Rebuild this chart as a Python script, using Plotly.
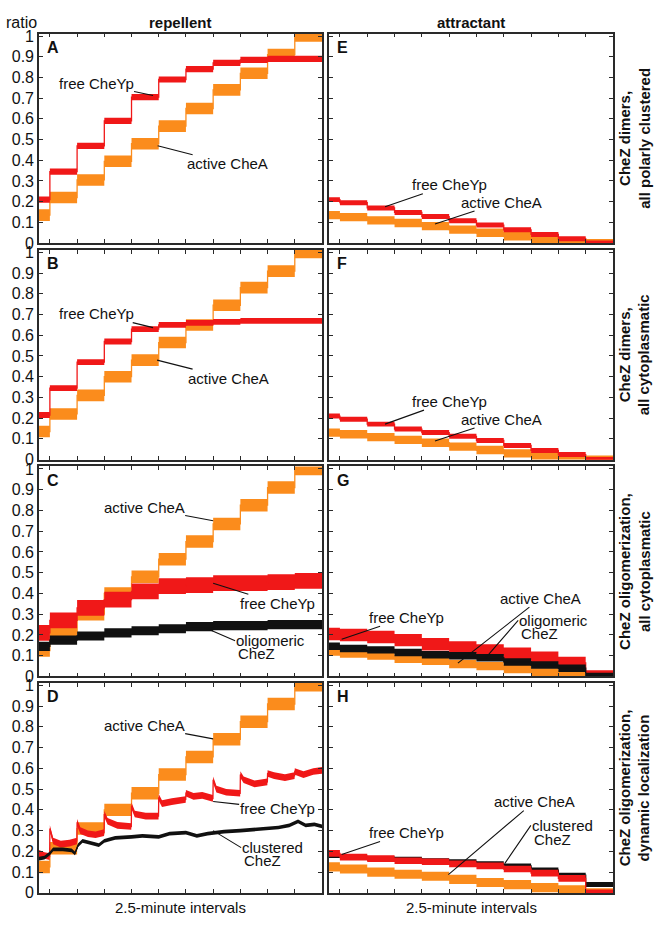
import plotly.graph_objects as go
from plotly.subplots import make_subplots

# ---------------------------------------------------------------- data
# stimulus step times (min); each level holds until the next step time,
# the last one until END_T
step_times = [-1.0, 0.0, 2.5, 5.0, 7.5, 10.0, 12.5, 15.0, 17.5, 20.0, 22.5]
END_T = 25.0

# repellent steps
cheA_A = [0.135, 0.22, 0.305, 0.395, 0.48, 0.565, 0.65, 0.74, 0.82, 0.91, 1.0]
cheYp_A = [0.21, 0.345, 0.47, 0.59, 0.705, 0.79, 0.84, 0.87, 0.885, 0.89, 0.89]

cheA_B = [0.135, 0.22, 0.31, 0.40, 0.48, 0.565, 0.65, 0.745, 0.83, 0.91, 1.0]
cheYp_B = [0.215, 0.345, 0.47, 0.57, 0.63, 0.65, 0.66, 0.665, 0.67, 0.67, 0.67]

cheA_C = [0.125, 0.215, 0.30, 0.40, 0.48, 0.565, 0.65, 0.735, 0.825, 0.91, 1.0]
cheYp_C = [0.21, 0.27, 0.33, 0.37, 0.41, 0.435, 0.44, 0.45, 0.45, 0.455, 0.46]
cheZ_C = [0.145, 0.175, 0.195, 0.21, 0.22, 0.23, 0.24, 0.245, 0.245, 0.25, 0.25]

cheA_D = [0.125, 0.215, 0.31, 0.40, 0.48, 0.57, 0.655, 0.74, 0.825, 0.91, 1.0]
t_cheYp_D = [-1.0, -0.5, -0.02, 0.0, 0.3, 1.0, 1.8, 2.48,
             2.5, 2.8, 3.5, 4.2, 4.98,
             5.0, 5.3, 6.2, 7.48,
             7.5, 7.8, 8.8, 9.98,
             10.0, 10.3, 11.2, 12.48,
             12.5, 13.2, 14.0, 14.98,
             15.0, 15.3, 16.2, 17.48,
             17.5, 17.8, 18.8, 19.98,
             20.0, 20.6, 21.6, 22.48,
             22.5, 23.3, 24.2, 25.0]
cheYp_D = [0.19, 0.18, 0.175, 0.31, 0.25, 0.235, 0.24, 0.25,
           0.34, 0.30, 0.285, 0.28, 0.29,
           0.38, 0.345, 0.325, 0.32,
           0.42, 0.38, 0.37, 0.37,
           0.46, 0.43, 0.44, 0.45,
           0.48, 0.465, 0.47, 0.455,
           0.545, 0.50, 0.485, 0.48,
           0.57, 0.545, 0.525, 0.535,
           0.575, 0.565, 0.555, 0.565,
           0.585, 0.57, 0.585, 0.59]
t_cheZ_D = [-1.0, -0.5, 0.0, 0.3, 1.2, 2.0, 2.3, 2.6, 3.0, 4.0, 4.5, 5.0, 6.0,
            7.5, 8.5, 10.0, 11.0, 12.5, 13.5, 14.5, 16.0, 17.5, 18.5, 20.0,
            21.0, 22.0, 22.8, 23.5, 24.3, 25.0]
cheZ_D = [0.165, 0.17, 0.19, 0.21, 0.21, 0.205, 0.19, 0.23, 0.25, 0.235, 0.23,
          0.25, 0.265, 0.27, 0.275, 0.27, 0.285, 0.29, 0.275, 0.285, 0.295,
          0.30, 0.305, 0.31, 0.315, 0.325, 0.345, 0.325, 0.33, 0.32]

# attractant steps
cheA_E = [0.135, 0.125, 0.11, 0.097, 0.082, 0.065, 0.05, 0.033, 0.018, 0.007, 0.0]
cheYp_E = [0.21, 0.195, 0.17, 0.148, 0.128, 0.108, 0.087, 0.064, 0.042, 0.021, 0.0]

cheA_F = [0.13, 0.122, 0.108, 0.095, 0.081, 0.062, 0.046, 0.03, 0.015, 0.005, 0.0]
cheYp_F = [0.21, 0.195, 0.171, 0.147, 0.13, 0.112, 0.092, 0.068, 0.044, 0.024, 0.0]

cheA_G = [0.12, 0.11, 0.10, 0.085, 0.075, 0.06, 0.05, 0.035, 0.02, 0.01, 0.0]
cheYp_G = [0.205, 0.20, 0.19, 0.175, 0.155, 0.14, 0.125, 0.11, 0.09, 0.065, 0.0]
cheZ_G = [0.145, 0.135, 0.128, 0.115, 0.105, 0.10, 0.09, 0.07, 0.055, 0.04, 0.0]

cheA_H = [0.125, 0.115, 0.10, 0.09, 0.08, 0.065, 0.05, 0.04, 0.025, 0.015, 0.0]
cheYp_H = [0.19, 0.172, 0.165, 0.155, 0.15, 0.14, 0.13, 0.115, 0.095, 0.07, 0.0]
cheZ_H = [0.18, 0.172, 0.165, 0.162, 0.155, 0.15, 0.14, 0.13, 0.11, 0.085, 0.04]

y_ticks = [0.0, 0.1, 0.2, 0.3, 0.4, 0.5, 0.6, 0.7, 0.8, 0.9, 1.0]
y_tick_text = ["0", "0.1", "0.2", "0.3", "0.4", "0.5", "0.6", "0.7", "0.8", "0.9", "1"]

col_titles = ["repellent", "attractant"]
row_titles = ["CheZ dimers,<br>all polarly clustered",
              "CheZ dimers,<br>all cytoplasmatic",
              "CheZ oligomerization,<br>all cytoplasmatic",
              "CheZ oligomerization,<br>dynamic localization"]
panel_letters = [["A", "E"], ["B", "F"], ["C", "G"], ["D", "H"]]
x_title = "2.5-minute intervals"

# ---------------------------------------------------------------- style
FONT = "Liberation Sans, Arial, sans-serif"
RED = "#f01818"
ORANGE = "#fb8c1c"
BLACK = "#111111"
FRAME = "#2a2a2a"
W, H = 654, 925

# panel boxes in page pixels
col_px = [(39, 322), (329, 613)]
row_px = [(28, 241), (248, 461), (468, 681.5), (688, 901.5)]

fig = make_subplots(rows=4, cols=2)


def ax_names(row, col):
    i = (row - 1) * 2 + col
    s = "" if i == 1 else str(i)
    return "x" + s, "y" + s


def steps(levels):
    return step_times + [END_T], levels + [levels[-1]]


def add_trace(row, col, t, v, half, color, shape):
    """Noisy trace drawn as a band of +-half around its level plus a thin core line."""
    lo = [y - half for y in v]
    hi = [y + half for y in v]
    common = dict(mode="lines", hoverinfo="skip", showlegend=False)
    fig.add_trace(go.Scatter(x=t, y=lo, line=dict(width=0, shape=shape, color=color), **common),
                  row=row, col=col)
    fig.add_trace(go.Scatter(x=t, y=hi, fill="tonexty", fillcolor=color,
                             line=dict(width=0, shape=shape, color=color), **common),
                  row=row, col=col)
    fig.add_trace(go.Scatter(x=t, y=v, line=dict(width=1.3, shape=shape, color=color), **common),
                  row=row, col=col)


def add_steps(row, col, levels, half, color):
    t, v = steps(levels)
    add_trace(row, col, t, v, half, color, "hv")


# A
add_steps(1, 1, cheA_A, 0.028, ORANGE)
add_steps(1, 1, cheYp_A, 0.015, RED)
# B
add_steps(2, 1, cheA_B, 0.028, ORANGE)
add_steps(2, 1, cheYp_B, 0.014, RED)
# C
add_steps(3, 1, cheA_C, 0.03, ORANGE)
add_steps(3, 1, cheYp_C, 0.038, RED)
add_steps(3, 1, cheZ_C, 0.022, BLACK)
# D
add_steps(4, 1, cheA_D, 0.03, ORANGE)
add_trace(4, 1, t_cheYp_D, cheYp_D, 0.016, RED, "linear")
add_trace(4, 1, t_cheZ_D, cheZ_D, 0.009, BLACK, "linear")
# E
add_steps(1, 2, cheA_E, 0.02, ORANGE)
add_steps(1, 2, cheYp_E, 0.012, RED)
# F
add_steps(2, 2, cheA_F, 0.02, ORANGE)
add_steps(2, 2, cheYp_F, 0.012, RED)
# G
add_steps(3, 2, cheA_G, 0.02, ORANGE)
add_steps(3, 2, cheYp_G, 0.03, RED)
add_steps(3, 2, cheZ_G, 0.018, BLACK)
# H
add_steps(4, 2, cheA_H, 0.022, ORANGE)
add_steps(4, 2, cheZ_H, 0.012, BLACK)
add_steps(4, 2, cheYp_H, 0.016, RED)

# ---------------------------------------------------------------- axes
for r in range(1, 5):
    y0, y1 = row_px[r - 1]
    for c in range(1, 3):
        x0, x1 = col_px[c - 1]
        fig.update_xaxes(row=r, col=c, domain=[x0 / W, x1 / W], range=[-1, END_T],
                         tickvals=step_times[1:], ticks="inside", ticklen=4, tickwidth=1.2,
                         tickcolor=FRAME, showticklabels=False, showline=True,
                         linecolor=FRAME, linewidth=1.6, mirror="ticks",
                         showgrid=False, zeroline=False, fixedrange=True)
        fig.update_yaxes(row=r, col=c, domain=[1 - y1 / H, 1 - y0 / H], range=[0, 1.012],
                         tickvals=y_ticks, ticktext=y_tick_text, ticks="inside", ticklen=4,
                         tickwidth=1.2, tickcolor=FRAME, showticklabels=(c == 1),
                         tickfont=dict(family=FONT, size=16, color="#111"),
                         showline=True, linecolor=FRAME, linewidth=1.6, mirror="ticks",
                         showgrid=False, zeroline=False, fixedrange=True)

# ---------------------------------------------------------------- text
ann = []
txt = dict(family=FONT, size=15, color="#111")
bold = dict(family=FONT, size=15, color="#111", weight="bold")

# column titles and y label
for c, title in enumerate(col_titles):
    x0, x1 = col_px[c]
    ann.append(dict(text="<b>%s</b>" % title, x=(x0 + x1) / 2 / W, y=1 - 17 / H,
                    xref="paper", yref="paper", showarrow=False, font=bold,
                    xanchor="center", yanchor="middle"))
    ann.append(dict(text=x_title, x=(x0 + x1) / 2 / W, y=1 - 916 / H,
                    xref="paper", yref="paper", showarrow=False, font=txt,
                    xanchor="center", yanchor="middle"))
ann.append(dict(text="ratio", x=4 / W, y=1 - 17 / H, xref="paper", yref="paper",
                showarrow=False, font=dict(family=FONT, size=16, color="#111"),
                xanchor="left", yanchor="middle"))

# row titles on the right
for r, title in enumerate(row_titles):
    y0, y1 = row_px[r]
    ann.append(dict(text="<b>%s</b>" % title, x=634.5 / W, y=1 - (y0 + y1) / 2 / H,
                    xref="paper", yref="paper", showarrow=False, font=bold,
                    textangle=-90, xanchor="center", yanchor="middle"))

# panel letters
for r in range(4):
    for c in range(2):
        xa, ya = ax_names(r + 1, c + 1)
        ann.append(dict(text="<b>%s</b>" % panel_letters[r][c], x=0.02, y=0.935,
                        xref=xa + " domain", yref=ya + " domain", showarrow=False,
                        font=dict(family=FONT, size=16, color="#111", weight="bold"),
                        xanchor="left", yanchor="middle"))

# single-line callouts: (row, col, text, tip time, tip value, text offset dx, dy in px)
callouts = [
    (1, 1, "free CheYp", 9.48, 0.713, -57, -12),
    (1, 1, "active CheA", 9.9, 0.47, 70, 18),
    (2, 1, "free CheYp", 9.48, 0.637, -57, -14),
    (2, 1, "active CheA", 9.85, 0.48, 71, 18),
    (3, 1, "active CheA", 15.0, 0.75, -69, -13),
    (3, 1, "free CheYp", 15.0, 0.449, 64, 20),
    (4, 1, "active CheA", 15.0, 0.742, -69, -13),
    (4, 1, "free CheYp", 15.0, 0.44, 64, 7),
    (1, 2, "free CheYp", 4.13, 0.176, 64, -22),
    (1, 2, "active CheA", 8.7, 0.092, 67, -22),
    (2, 2, "free CheYp", 4.13, 0.171, 64, -23),
    (2, 2, "active CheA", 8.7, 0.089, 67, -22),
    (3, 2, "free CheYp", 0.16, 0.179, 65, -22),
    (3, 2, "active CheA", 10.8, 0.064, 83, -65),
    (4, 2, "free CheYp", 0.16, 0.185, 65, -22),
    (4, 2, "active CheA", 9.93, 0.088, 86, -73),
]
for r, c, text, tx, ty, dx, dy in callouts:
    xa, ya = ax_names(r, c)
    ann.append(dict(text=text, x=tx, y=ty, xref=xa, yref=ya, showarrow=True,
                    arrowhead=0, arrowwidth=1.1, arrowcolor="#111", ax=dx, ay=dy,
                    standoff=0, borderpad=0, font=txt))

# two-line callouts (first line carries the pointer, text left-aligned):
# (row, col, line 1, line 2, tip time, tip value, left dx, line-1 dy, line-2 dy)
callouts2 = [
    (3, 1, "oligomeric", "CheZ", 14.26, 0.235, 32, 13, 26),
    (4, 1, "clustered", "CheZ", 15.0, 0.30, 30, 17, 30),
    (3, 2, "oligomeric", "CheZ", 13.3, 0.087, 35, -38, -25),
    (4, 2, "clustered", "CheZ", 15.1, 0.142, 28, -38, -24),
]
for r, c, l1, l2, tx, ty, dx, dy1, dy2 in callouts2:
    xa, ya = ax_names(r, c)
    ann.append(dict(text=l1, x=tx, y=ty, xref=xa, yref=ya, showarrow=True,
                    arrowhead=0, arrowwidth=1.1, arrowcolor="#111", ax=dx - 2, ay=dy1,
                    xanchor="left", yanchor="middle", standoff=0, borderpad=0, font=txt))
    ann.append(dict(text=l2, x=tx, y=ty, xref=xa, yref=ya, showarrow=False,
                    xshift=dx, yshift=-dy2, xanchor="left", yanchor="middle",
                    borderpad=0, font=txt))

fig.update_layout(width=W, height=H, margin=dict(l=0, r=0, t=0, b=0),
                  paper_bgcolor="white", plot_bgcolor="white",
                  showlegend=False, annotations=ann,
                  font=dict(family=FONT, color="#111"))

fig.write_html("out.html", config={"displayModeBar": False})
